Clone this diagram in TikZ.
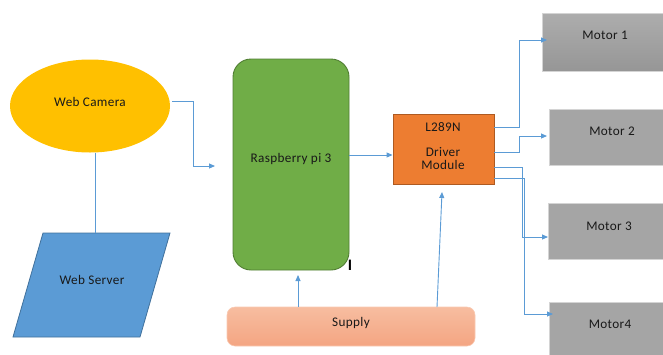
\documentclass[tikz,border=0pt]{standalone}
\usepackage{fontspec}
\setmainfont{Carlito}[LetterSpace=2.5]
\usetikzlibrary{shapes.geometric,arrows.meta}
\definecolor{conn}{HTML}{5B9BD5}
\definecolor{camfill}{HTML}{FFC000}
\definecolor{pifill}{HTML}{70AD47}
\definecolor{pidraw}{HTML}{507E32}
\definecolor{drvfill}{HTML}{ED7D31}
\definecolor{drvdraw}{HTML}{AE5A21}
\definecolor{srvfill}{HTML}{5B9BD5}
\definecolor{srvdraw}{HTML}{41719C}
\definecolor{suptop}{HTML}{F7BDA0}
\definecolor{supbot}{HTML}{F4A582}
\definecolor{mottop}{HTML}{ADADAD}
\definecolor{motbot}{HTML}{969696}
\definecolor{motfill}{HTML}{A5A5A5}
\definecolor{motdraw}{HTML}{D4D4D4}
\tikzset{
  txt/.style={font=\fontsize{13.2}{15}\selectfont, text=black!90},
  wire/.style={draw=conn, line width=0.9pt},
  arr/.style={wire, -{Triangle[length=6pt,width=5pt]}},
  motor/.style={draw=motdraw, line width=0.8pt, fill=motfill, inner sep=0pt},
}
\begin{document}
\begin{tikzpicture}[x=1pt,y=-1pt]
\useasboundingbox (0,0) rectangle (663,354);
% Web camera
\node[ellipse, fill=camfill, minimum width=160pt, minimum height=93pt, inner sep=0pt] (cam) at (90,106) {};
\node[txt] (camt) at (90,102) {Web Camera};
% Web server parallelogram
\coordinate (s1) at (43,233);
\coordinate (s2) at (170,233);
\coordinate (s3) at (140,337);
\coordinate (s4) at (13,337);
\draw[fill=srvfill, draw=srvdraw, line width=0.8pt] (s1) -- (s2) -- (s3) -- (s4) -- cycle;
\node[txt] (srv) at (92,280) {Web Server};
\coordinate (srvtop) at (95,233);
\coordinate (camb) at (95,152.5);
\draw[wire] (camb) -- (srvtop);
% Raspberry pi
\draw[fill=pifill, draw=pidraw, line width=0.9pt, rounded corners=18pt] (233,59) rectangle (349,270);
\node[txt] (pi) at (291,159) {Raspberry pi 3};
\node[font=\fontsize{16}{16}\selectfont\bfseries] (cur) at (350,265) {I};
% Supply
\shade[top color=suptop, bottom color=supbot, rounded corners=8pt] (227,307) rectangle (475,346);
\draw[draw=suptop!80!white, line width=0.6pt, rounded corners=8pt] (227,307) rectangle (475,346);
\node[txt] (sup) at (351,323) {Supply};
% Driver
\node[draw=drvdraw, fill=drvfill, line width=0.9pt, minimum width=101pt, minimum height=70pt, inner sep=0pt] (drv) at (443.5,149) {};
\node[txt] (drv1) at (443,127) {L289N};
\node[txt, align=center] (drv2) at (443,158.5) {Driver\\[-1.5pt]Module};
% Motors
\shade[top color=mottop, bottom color=motbot] (542,13) rectangle (663,71);
\draw[draw=motdraw, line width=0.8pt] (663,13) -- (542,13) -- (542,71) -- (663,71);
\coordinate (m1) at (542,40);
\node[txt] (m1t) at (605,35) {Motor 1};
\node[motor, minimum width=120pt, minimum height=56pt, anchor=north west] (m2) at (549,109) {};
\node[txt] (m2t) at (612,131) {Motor 2};
\node[motor, minimum width=120pt, minimum height=56pt, anchor=north west] (m3) at (548,203) {};
\node[txt] (m3t) at (609,226) {Motor 3};
\node[motor, minimum width=120pt, minimum height=60pt, anchor=north west] (m4) at (549,302) {};
\node[txt] (m4t) at (610,324) {Motor4};
% connectors
\coordinate (c0) at (172,101);
\coordinate (c1) at (215,166);
\draw[arr] (c0) -| (193,166) -- (c1);
\draw[arr] (349,155) -- (drv.west |- 0,155);
\coordinate (supa) at (298,307);
\coordinate (pib) at (298,275);
\draw[arr] (supa) -- (pib);
\coordinate (supb) at (437,307);
\coordinate (drvb) at (442,192);
\draw[arr] (supb) -- (drvb);
\coordinate (o1) at (494,127);
\coordinate (o2) at (494,152);
\coordinate (o3) at (494,167);
\coordinate (o4) at (494,178);
\coordinate (t1) at (547,40);
\coordinate (t2) at (547,136);
\coordinate (t3) at (548,237);
\coordinate (t4) at (553,314);
\draw[arr] (o1) -- (519,127) -- (519,40) -- (t1);
\draw[arr] (o2) -- (519,152) -- (519,136) -- (t2);
\draw[arr] (o3) -- (522,167) -- (522,237) -- (t3);
\draw[arr] (o4) -- (524,178) -- (524,314) -- (t4);
\end{tikzpicture}
\end{document}
